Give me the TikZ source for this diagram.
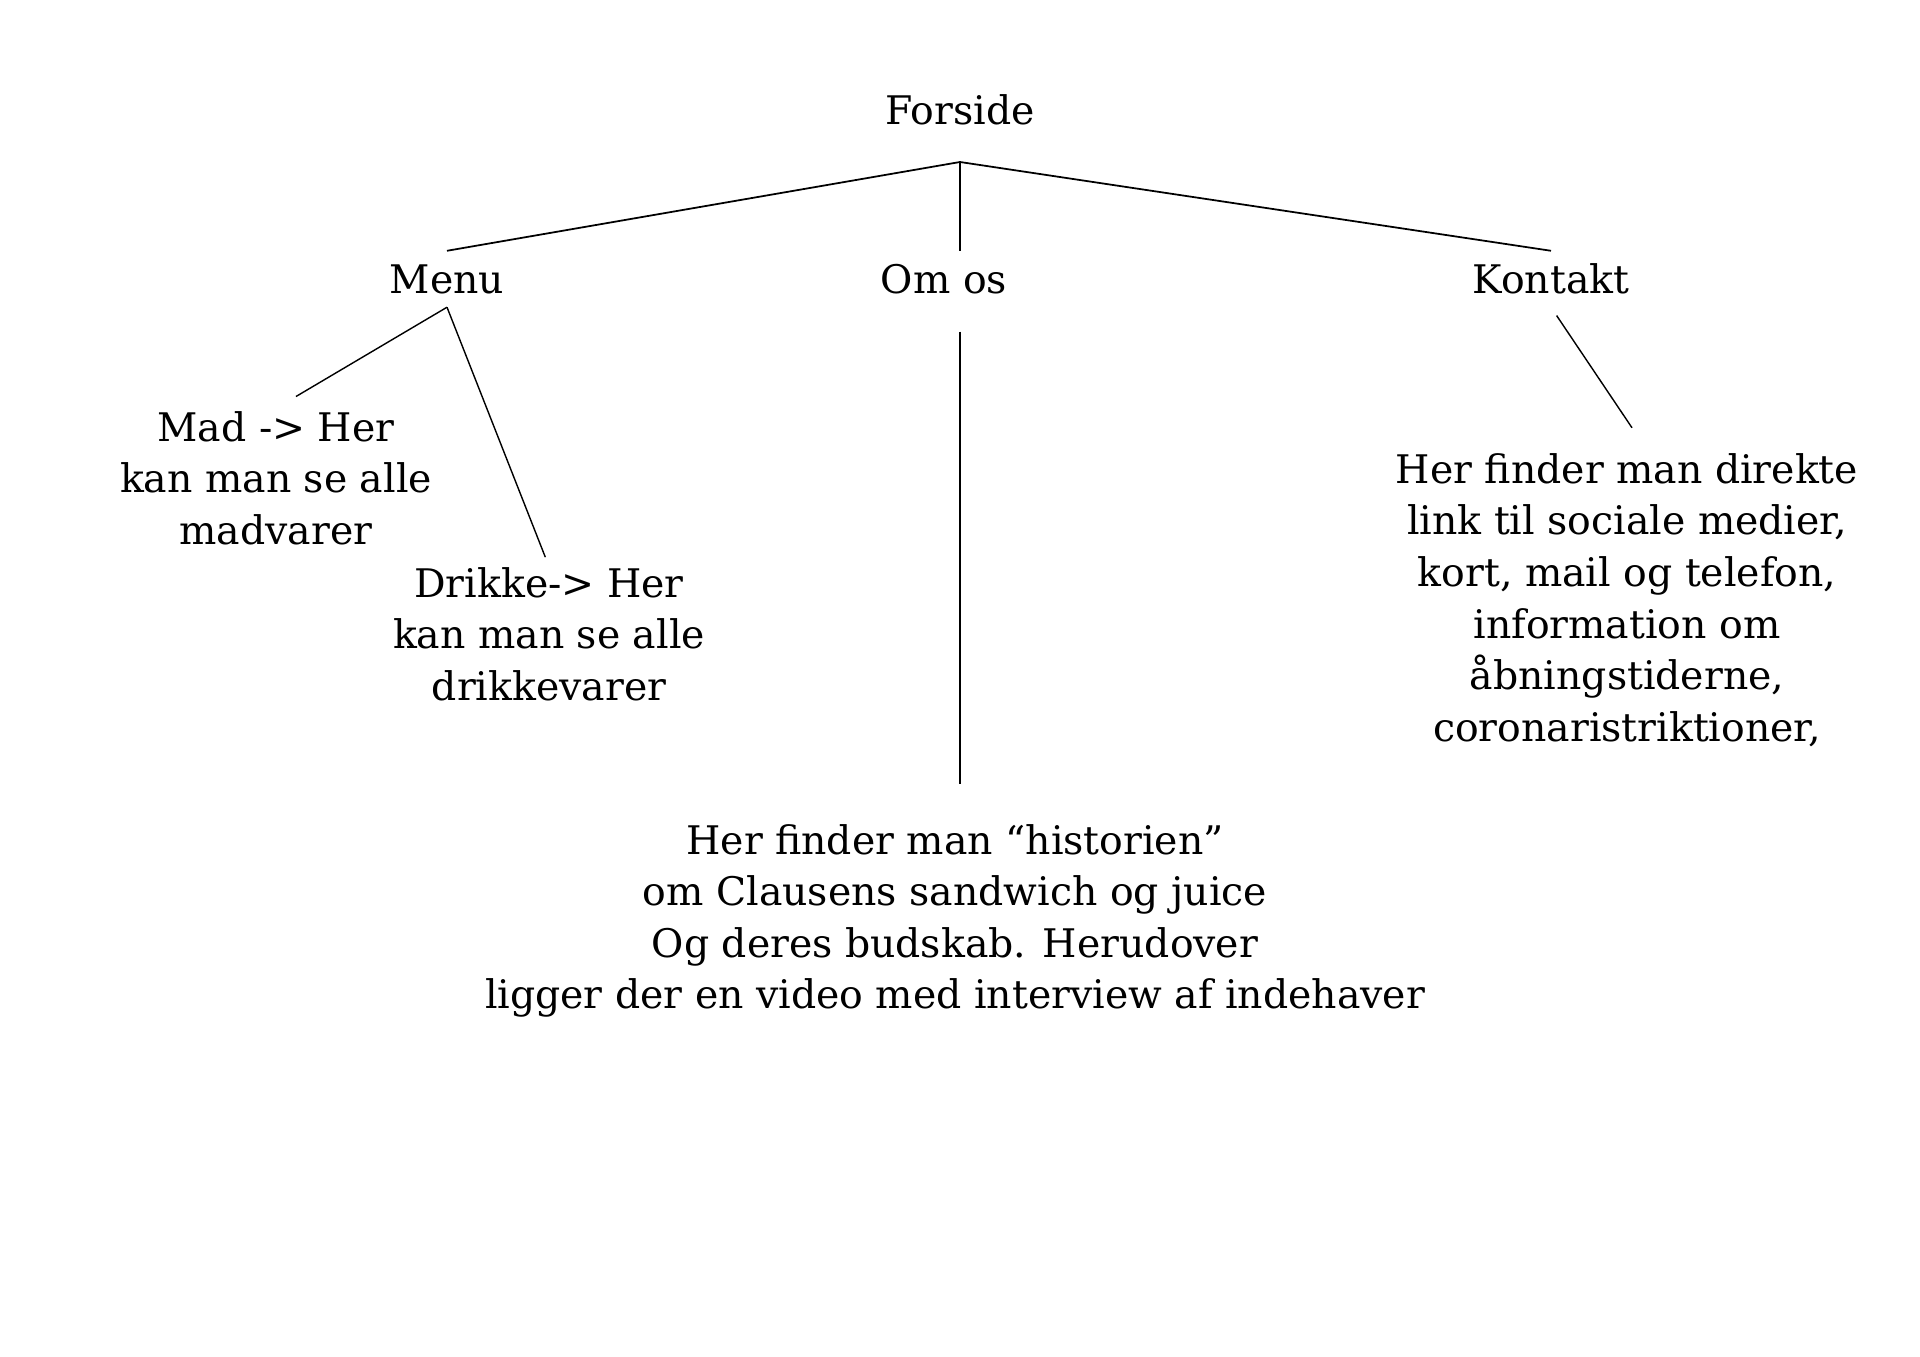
\documentclass[tikz,border=0pt]{standalone}
\usepackage{fontspec}
\setmainfont{DejaVu Serif}
\usetikzlibrary{positioning, calc}

\begin{document}
\begin{tikzpicture}[x=0.01cm, y=-0.01cm,
  lbl/.style={inner sep=0pt, text height=0.415cm, text depth=0.135cm, font=\fontsize{11.2}{14.66}\selectfont},
  txt/.style={inner sep=0pt, align=center, font=\fontsize{11.2}{14.66}\selectfont}]
  \useasboundingbox (0,0) rectangle (1920,1357);
  % Top level
  \node[lbl] (forside) at (960,110) {Forside};
  \coordinate (split) at (960,162);
  \node[lbl] (menu) at (447,279) {Menu};
  \node[lbl] (omos) at (944,279) {Om os};
  \node[lbl] (kontakt) at (1551,279) {Kontakt};
  \draw[line width=0.5pt] (split) -- (menu.north);
  \draw (split) -- (split |- omos.north);
  \draw[line width=0.5pt] (split) -- (kontakt.north);
  % Menu
  \node[txt] (mad) at (276,478) {Mad -> Her\\kan man se alle\\madvarer};
  \node[txt] (drikke) at (549,634) {Drikke-> Her\\kan man se alle\\drikkevarer};
  \draw (menu.south) -- ($(mad.north)+(20,-14)$);
  \draw[shorten >=0.1cm] (menu.south) -- (drikke.north);
  % Om os
  \node[txt] (historie) at (955,921) {Her finder man “historien”\\om Clausens sandwich og juice\\Og deres budskab. Herudover\\ligger der en video med interview af indehaver};
  \draw[shorten <=0.245cm, shorten >=0.4cm] (split |- omos.south) -- (split |- historie.north);
  % Kontakt
  \node[txt] (info) at (1627,600) {Her finder man direkte\\link til sociale medier,\\kort, mail og telefon,\\information om\\åbningstiderne,\\coronaristriktioner,};
  \draw[shorten <=0.1cm] (kontakt.south) -- ($(info.north)+(5,-25)$);
\end{tikzpicture}
\end{document}
